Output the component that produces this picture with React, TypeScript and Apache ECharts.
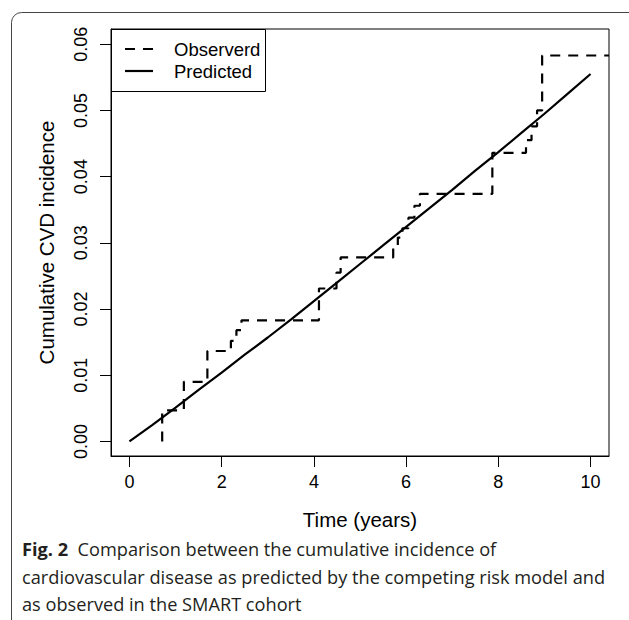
import React, { useEffect, useRef } from "react";
import * as echarts from "echarts";

// ---- data ----
const xTicks = [0, 2, 4, 6, 8, 10];
const yTicks = [0, 0.01, 0.02, 0.03, 0.04, 0.05, 0.06];

// observed cumulative incidence: step function (time of jump, value after jump)
const obsTime = [0.71, 0.71, 1.18, 1.69, 2.2, 2.32, 2.43, 4.11, 4.49, 4.58, 5.72, 5.82, 5.92, 6.05, 6.18, 6.3, 7.87, 8.6, 8.72, 8.84, 8.95, 10.4];
const obsValue = [0, 0.0047, 0.009, 0.01366, 0.0152, 0.0168, 0.0183, 0.0231, 0.0255, 0.0278, 0.0293, 0.0308, 0.0322, 0.0338, 0.0356, 0.0374, 0.0436, 0.0455, 0.0476, 0.05, 0.0583, 0.0583];

// predicted cumulative incidence (competing risk model)
const predTime = [0, 0.5, 1, 1.5, 2, 2.5, 3, 3.5, 4, 4.5, 5, 5.5, 6, 6.5, 7, 7.5, 8, 8.5, 9, 9.5, 10];
const predValue = [0, 0.0025, 0.0051, 0.0078, 0.0104, 0.0131, 0.0157, 0.0184, 0.0212, 0.024, 0.0268, 0.0296, 0.0324, 0.0352, 0.038, 0.0409, 0.0437, 0.0466, 0.0495, 0.0525, 0.0555];

const seriesNames = ["Observerd", "Predicted"];
const xName = "Time (years)";
const yName = "Cumulative CVD incidence";
const captionLines = [
  "Comparison between the cumulative incidence of",
  "cardiovascular disease as predicted by the competing risk model and",
  "as observed in the SMART cohort",
];
const figLabel = "Fig. 2";

const FONT = "'Liberation Sans', Arial, Helvetica, sans-serif";
const CAP_FONT = "'Open Sans', 'Noto Sans', sans-serif";
const CAP_SIZE = 18.2;

export default function App() {
  const ref = useRef<HTMLDivElement>(null);

  useEffect(() => {
    document.body.style.margin = "0";
    if (!ref.current) return;
    const chart = echarts.init(ref.current, undefined, { renderer: "svg" });

    const obsData = obsTime.map((t, i) => [t, obsValue[i]]);
    const predData = predTime.map((t, i) => [t, predValue[i]]);

    const option: any = {
      animation: false,
      backgroundColor: "#fff",
      grid: {
        left: 111,
        top: 29,
        right: 20,
        bottom: 164,
        show: true,
        borderColor: "#000",
        borderWidth: 1,
      },
      xAxis: {
        type: "value",
        min: -0.4,
        max: 10.4,
        splitLine: { show: false },
        axisLine: { show: true, onZero: false, lineStyle: { color: "#000", width: 1 } },
        axisTick: {
          show: true,
          length: 11,
          inside: false,
          customValues: xTicks,
          lineStyle: { color: "#000", width: 1 },
        },
        axisLabel: {
          customValues: xTicks,
          margin: 17,
          fontSize: 18,
          color: "#000",
          fontFamily: FONT,
        },
        name: xName,
        nameLocation: "middle",
        nameGap: 53,
        nameTextStyle: { fontSize: 20.5, color: "#000", fontFamily: FONT },
      },
      yAxis: {
        type: "value",
        min: -0.0022,
        max: 0.0623,
        splitLine: { show: false },
        axisLine: { show: true, onZero: false, lineStyle: { color: "#000", width: 1 } },
        axisTick: {
          show: true,
          length: 11,
          inside: false,
          customValues: yTicks,
          lineStyle: { color: "#000", width: 1 },
        },
        axisLabel: {
          customValues: yTicks,
          rotate: 90,
          margin: 21,
          fontSize: 18,
          color: "#000",
          fontFamily: FONT,
          formatter: (v: number) => v.toFixed(2),
        },
        name: yName,
        nameLocation: "middle",
        nameGap: 54,
        nameRotate: 90,
        nameTextStyle: { fontSize: 20.5, color: "#000", fontFamily: FONT },
      },
      series: [
        {
          name: seriesNames[0],
          type: "line",
          step: "end",
          data: obsData,
          symbol: "none",
          clip: true,
          lineStyle: { color: "#000", width: 2.2, type: [10, 8] },
        },
        {
          name: seriesNames[1],
          type: "line",
          smooth: false,
          data: predData,
          symbol: "none",
          clip: true,
          lineStyle: { color: "#000", width: 2.2, type: "solid" },
        },
      ],
      graphic: [
        {
          type: "rect",
          silent: true,
          z: -10,
          shape: { x: 11.5, y: 12.5, width: 700, height: 700, r: 10 },
          style: { fill: "none", stroke: "#444", lineWidth: 1 },
        },
        // legend
        {
          type: "rect",
          z: 100,
          shape: { x: 111.5, y: 29.5, width: 154, height: 62 },
          style: { fill: "#fff", stroke: "#000", lineWidth: 1 },
        },
        {
          type: "line",
          z: 101,
          shape: { x1: 125, y1: 49, x2: 155, y2: 49 },
          style: { stroke: "#000", lineWidth: 2.2, lineDash: [10, 8] },
        },
        {
          type: "line",
          z: 101,
          shape: { x1: 125, y1: 71, x2: 153, y2: 71 },
          style: { stroke: "#000", lineWidth: 2.2 },
        },
        {
          type: "text",
          z: 101,
          x: 174,
          y: 49,
          style: {
            text: seriesNames[0],
            fontSize: 18.5,
            fontFamily: FONT,
            fill: "#000",
            verticalAlign: "middle",
          },
        },
        {
          type: "text",
          z: 101,
          x: 174,
          y: 71,
          style: {
            text: seriesNames[1],
            fontSize: 18.5,
            fontFamily: FONT,
            fill: "#000",
            verticalAlign: "middle",
          },
        },
        // caption
        {
          type: "text",
          x: 22,
          y: 549,
          style: {
            text: "{b|" + figLabel + "}{r|  " + captionLines[0] + "}",
            verticalAlign: "middle",
            rich: {
              b: { fontSize: CAP_SIZE, fontWeight: "bold", fontFamily: CAP_FONT, fill: "#231f20" },
              r: { fontSize: CAP_SIZE, fontFamily: CAP_FONT, fill: "#231f20" },
            },
          },
        },
        {
          type: "text",
          x: 22,
          y: 577,
          style: {
            text: captionLines[1],
            fontSize: CAP_SIZE,
            fontFamily: CAP_FONT,
            fill: "#231f20",
            verticalAlign: "middle",
          },
        },
        {
          type: "text",
          x: 22,
          y: 604,
          style: {
            text: captionLines[2],
            fontSize: CAP_SIZE,
            fontFamily: CAP_FONT,
            fill: "#231f20",
            verticalAlign: "middle",
          },
        },
      ],
    };

    chart.setOption(option);
    return () => chart.dispose();
  }, []);

  return <div ref={ref} style={{ width: 629, height: 620 }} />;
}
